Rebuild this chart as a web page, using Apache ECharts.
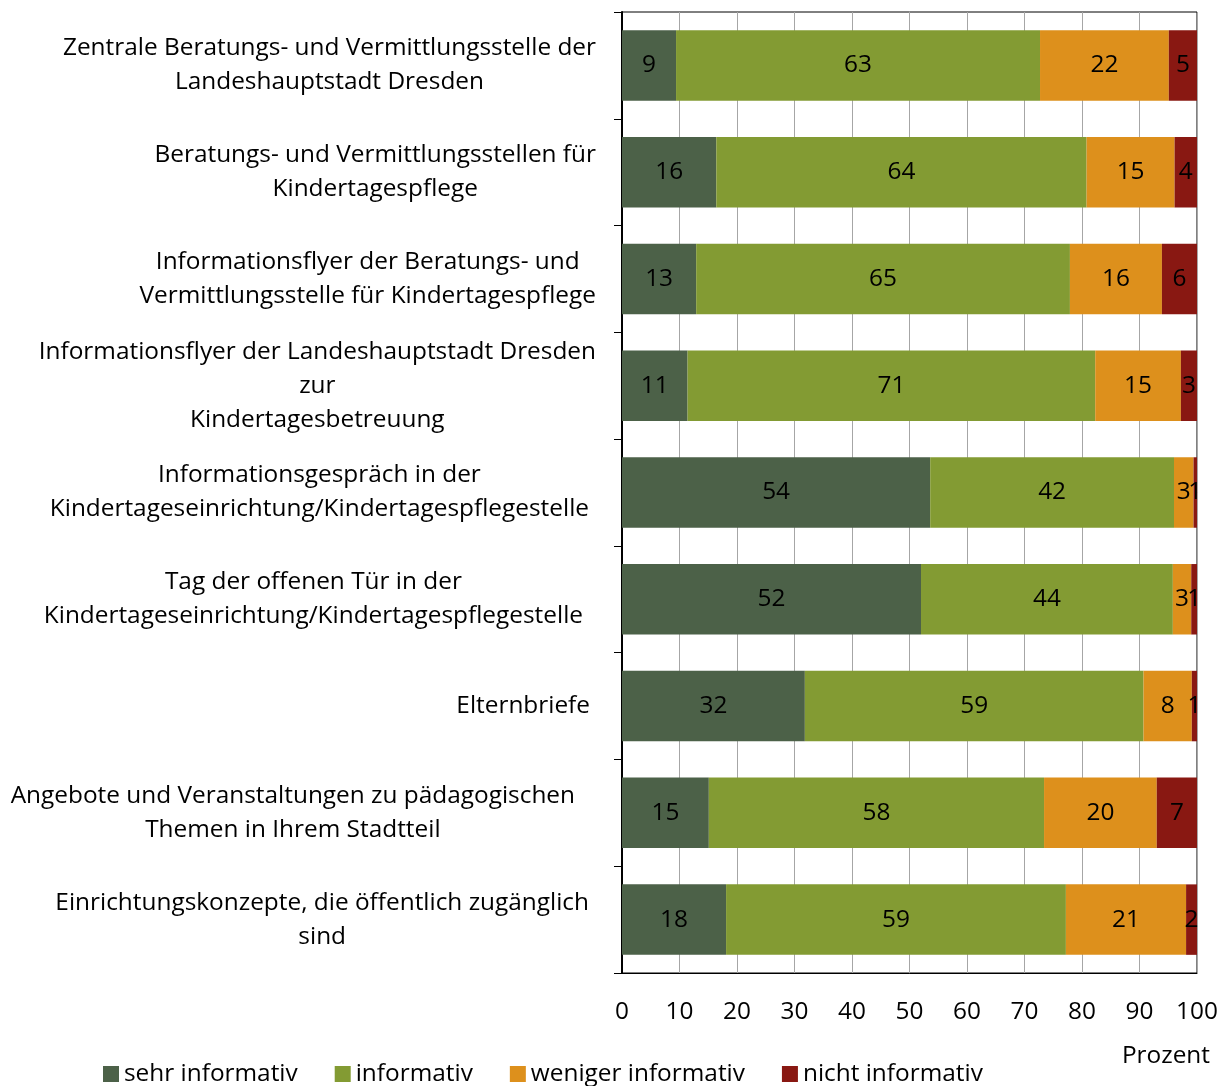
<!DOCTYPE html>
<html><head><meta charset="utf-8">
<script src="https://cdn.jsdelivr.net/npm/echarts@6/dist/echarts.min.js"></script>
<style>html,body{margin:0;padding:0;background:#fff}#c{width:1229px;height:1086px}</style>
</head><body><div id="c"></div>
<script>
const categories = [
  "Zentrale Beratungs- und Vermittlungsstelle der\nLandeshauptstadt Dresden",
  "Beratungs- und Vermittlungsstellen für\nKindertagespflege",
  "Informationsflyer der Beratungs- und\nVermittlungsstelle für Kindertagespflege",
  "Informationsflyer der Landeshauptstadt Dresden\nzur\nKindertagesbetreuung",
  "Informationsgespräch in der\nKindertageseinrichtung/Kindertagespflegestelle",
  "Tag der offenen Tür in der\nKindertageseinrichtung/Kindertagespflegestelle",
  "Elternbriefe",
  "Angebote und Veranstaltungen zu pädagogischen\nThemen in Ihrem Stadtteil",
  "Einrichtungskonzepte, die öffentlich zugänglich\nsind"
];
const seriesNames = ["sehr informativ", "informativ", "weniger informativ", "nicht informativ"];
const sehrInformativ    = [9.4, 16.4, 12.9, 11.4, 53.6, 52.0, 31.8, 15.1, 18.1];
const informativ        = [63.3, 64.4, 65.0, 70.9, 42.4, 43.8, 58.9, 58.3, 59.1];
const wenigerInformativ = [22.4, 15.3, 16.0, 14.9, 3.4, 3.2, 8.4, 19.6, 20.9];
const nichtInformativ   = [4.9, 3.9, 6.1, 2.8, 0.6, 1.0, 0.9, 7.0, 1.9];
const xTicks = [0, 10, 20, 30, 40, 50, 60, 70, 80, 90, 100];
const axisName = "Prozent";

// style only: extra right padding of each category label block
const labelPad = [0, 0, 0, 0, 7, 13, 6, 21, 7];
const colors = ["#4C6148", "#839B33", "#DD901C", "#891812"];
const FONT = "Open Sans";
const FS = 24.4;

const chart = echarts.init(document.getElementById('c'), null, {renderer: 'canvas'});
const values = [sehrInformativ, informativ, wenigerInformativ, nichtInformativ];

const rich = {c: {align: 'center', fontSize: FS, lineHeight: 34, color: '#000', fontFamily: FONT}};
labelPad.forEach((w, i) => { rich['s' + i] = {align: 'right', width: w, fontSize: FS, lineHeight: 34}; });

chart.setOption({
  animation: false,
  textStyle: {fontFamily: FONT},
  grid: {left: 622, right: 32, top: 12, bottom: 113, show: true, borderColor: '#000', borderWidth: 1, containLabel: false},
  legend: {
    left: 98, top: 1057, itemWidth: 16, itemHeight: 16, itemGap: 37,
    icon: 'rect',
    textStyle: {fontSize: FS, color: '#000', fontFamily: FONT},
    data: seriesNames
  },
  xAxis: {
    type: 'value', min: xTicks[0], max: xTicks[xTicks.length - 1], interval: 10,
    axisLine: {show: true, lineStyle: {color: '#000', width: 1}},
    axisTick: {show: false},
    splitLine: {show: true, lineStyle: {color: '#A6A6A6', width: 1}},
    axisLabel: {fontSize: FS, color: '#000', margin: 27, fontFamily: FONT},
    name: axisName, nameLocation: 'end', nameGap: 13,
    nameTextStyle: {fontSize: FS, color: '#000', align: 'right', verticalAlign: 'top', padding: [71, 0, 0, 0], fontFamily: FONT}
  },
  yAxis: {
    type: 'category', inverse: true, data: categories,
    axisLine: {show: true, lineStyle: {color: '#000', width: 2}},
    axisTick: {show: true, length: 8, lineStyle: {color: '#000', width: 1}},
    axisLabel: {
      margin: 26, align: 'right', color: '#000',
      formatter: function (v, i) {
        return v.split('\n').map(l => '{c|' + l + '}' + (labelPad[i] ? '{s' + i + '|}' : '')).join('\n');
      },
      rich: rich
    }
  },
  series: values.map((arr, k) => ({
    name: seriesNames[k], type: 'bar', stack: 'total', barWidth: '66%',
    itemStyle: {color: colors[k]},
    label: {show: true, position: 'inside', color: '#000', fontSize: FS, fontFamily: FONT,
      padding: [3, 0, 0, 0],
      formatter: p => Math.round(p.value)},
    data: arr
  }))
});
</script></body></html>
